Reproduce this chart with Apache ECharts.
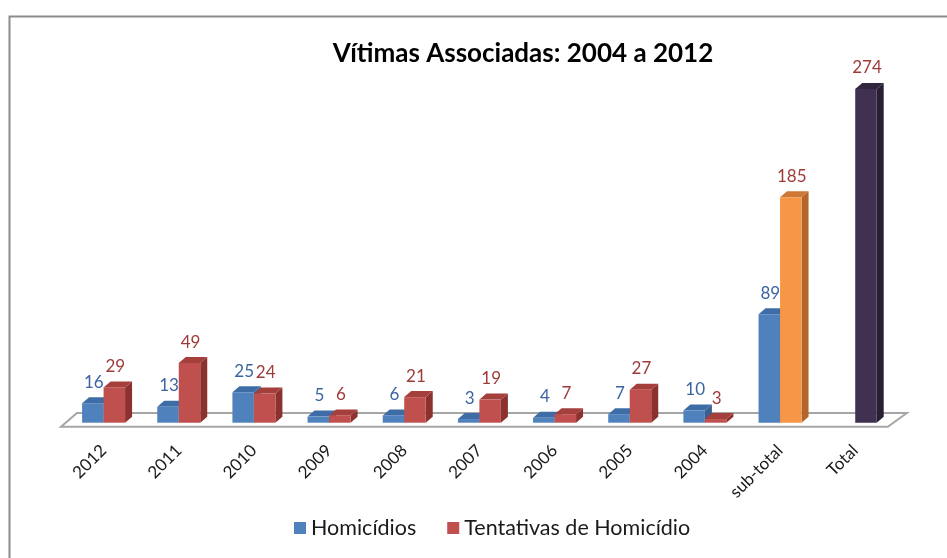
<!DOCTYPE html>
<html>
<head>
<meta charset="utf-8">
<script src="https://cdn.jsdelivr.net/npm/echarts@6/dist/echarts.min.js"></script>
<style>
  html, body { margin: 0; padding: 0; background: #ffffff; }
  #chart { width: 947px; height: 558px; }
</style>
</head>
<body>
<div id="chart"></div>
<script>
// Categories (years, then the sub-total and the grand total)
const categories = ['2012', '2011', '2010', '2009', '2008', '2007', '2006', '2005', '2004', 'sub-total', 'Total'];
// Homicídios per year (no value in the Total column)
const homicidios = [16, 13, 25, 5, 6, 3, 4, 7, 10, 89, null];
// Tentativas de Homicídio per year; the Total column holds the grand total
const tentativas = [29, 49, 24, 6, 21, 19, 7, 27, 3, 185, 274];

const FONT = 'Lato, "Open Sans", "Noto Sans", sans-serif';
const DEPTH_X = 7;      // horizontal depth of the 3D columns
const DEPTH_Y = 6;      // vertical depth of the 3D columns
const BAR_RATIO = 0.286;

const palettes = {
  blue:   { front: '#4f81bd', top: '#3e6ca7', side: '#375f90' },
  red:    { front: '#c0504d', top: '#a43f3c', side: '#8b3230' },
  orange: { front: '#f79646', top: '#cd7834', side: '#b2662b' },
  purple: { front: '#403152', top: '#32263f', side: '#281f34' }
};
const LABEL_BLUE = '#3b65a1';
const LABEL_RED = '#9e3b39';

function homicidiosPalette() { return palettes.blue; }
function tentativasPalette(i) {
  if (categories[i] === 'sub-total') return palettes.orange;
  if (categories[i] === 'Total') return palettes.purple;
  return palettes.red;
}

// Builds a renderItem that draws a pseudo-3D column in slot 0 (left) or 1 (right)
function column3d(slot, paletteFor, labelColor) {
  return function (params, api) {
    const v = api.value(1);
    if (v == null || isNaN(v)) return null;
    const idx = api.value(0);
    const band = api.size([1, 0])[0];
    const w = band * BAR_RATIO;
    const base = api.coord([idx, 0]);
    const head = api.coord([idx, v]);
    const x0 = base[0] + (slot === 0 ? -w : 0);
    const x1 = x0 + w;
    const y0 = base[1];
    const y1 = head[1];
    const p = paletteFor(params.dataIndex);
    return {
      type: 'group',
      children: [
        { type: 'polygon', shape: { points: [[x1, y1], [x1 + DEPTH_X, y1 - DEPTH_Y], [x1 + DEPTH_X, y0 - DEPTH_Y], [x1, y0]] }, style: { fill: p.side } },
        { type: 'polygon', shape: { points: [[x0, y1], [x0 + DEPTH_X, y1 - DEPTH_Y], [x1 + DEPTH_X, y1 - DEPTH_Y], [x1, y1]] }, style: { fill: p.top } },
        { type: 'rect', shape: { x: x0, y: y1, width: w, height: y0 - y1 }, style: { fill: p.front } },
        {
          type: 'text', x: (x0 + x1) / 2 + 1, y: y1 - 21,
          style: { text: String(v), fill: labelColor, fontSize: 17, fontFamily: FONT, align: 'center', verticalAlign: 'middle' }
        }
      ]
    };
  };
}

// Floor plate under the columns, sized from the category axis extent
function floor(params, api) {
  const band = api.size([1, 0])[0];
  const left = api.coord([0, 0])[0] - band / 2;
  const right = api.coord([categories.length - 1, 0])[0] + band / 2;
  const y = api.coord([0, 0])[1];
  return {
    type: 'polygon',
    shape: { points: [[left - 5, y + 4], [left + 11, y - 9.7], [right + 14, y - 9.7], [right - 5, y + 4]] },
    style: { fill: '#ffffff', stroke: '#a6a6a6', lineWidth: 2 }
  };
}

const chart = echarts.init(document.getElementById('chart'));
chart.setOption({
  backgroundColor: '#ffffff',
  animation: false,
  title: {
    text: 'Vítimas Associadas: 2004 a 2012',
    left: 518, top: 36, textAlign: 'center',
    textStyle: { fontFamily: FONT, fontSize: 26, fontWeight: 'bold', color: '#000000' }
  },
  legend: {
    data: ['Homicídios', 'Tentativas de Homicídio'],
    left: 289, top: 512,
    icon: 'rect', itemWidth: 12, itemHeight: 12, itemGap: 31,
    textStyle: { fontFamily: FONT, fontSize: 21.5, color: '#1a1a1a' }
  },
  grid: { left: 66, right: 54.2, top: 57.3, bottom: 135.3 },
  xAxis: {
    type: 'category',
    data: categories,
    axisLine: { show: false },
    axisTick: { show: false },
    axisLabel: { rotate: 45, margin: 25, interval: 0, fontFamily: FONT, fontSize: 17, color: '#1a1a1a' }
  },
  yAxis: {
    type: 'value', min: 0, max: 300, show: false,
    splitLine: { show: false }
  },
  graphic: [
    { type: 'rect', left: 7, top: 14, shape: { width: 1000, height: 1000 }, style: { fill: 'none', stroke: '#8c8c8c', lineWidth: 2 }, silent: true }
  ],
  series: [
    { type: 'custom', name: 'floor', silent: true, z: 1, data: [[0, 0]], renderItem: floor },
    {
      type: 'custom', name: 'Homicídios', z: 3,
      itemStyle: { color: palettes.blue.front },
      encode: { x: 0, y: 1 },
      data: homicidios.map((v, i) => [i, v == null ? '-' : v]),
      renderItem: column3d(0, homicidiosPalette, LABEL_BLUE)
    },
    {
      type: 'custom', name: 'Tentativas de Homicídio', z: 3,
      itemStyle: { color: palettes.red.front },
      encode: { x: 0, y: 1 },
      data: tentativas.map((v, i) => [i, v]),
      renderItem: column3d(1, tentativasPalette, LABEL_RED)
    }
  ]
});
</script>
</body>
</html>
